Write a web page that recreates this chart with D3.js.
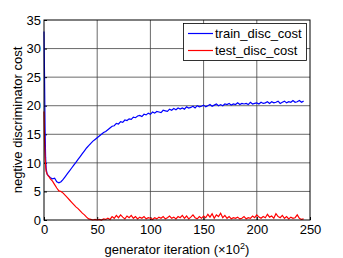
<!DOCTYPE html>
<html>
<head>
<meta charset="utf-8">
<script src="https://cdn.jsdelivr.net/npm/d3@7"></script>
<style>
  body { margin: 0; background: #fff; }
  text { font-family: "Liberation Sans", Arial, sans-serif; fill: #000; }
</style>
</head>
<body>
<svg width="343" height="258"></svg>
<script>
// iteration (x100)
const iterations = [0, 0.5, 1, 1.5, 2, 3, 4, 5, 6, 8, 10, 12, 14, 16, 18, 20, 22, 24, 26, 28, 30, 32, 34, 36, 38, 40,
  42, 44, 46, 48, 50, 52, 54, 56, 58, 60, 62, 64, 66, 68, 70, 72, 74, 76, 78, 80, 82, 84, 86, 88, 90,
  92, 94, 96, 98, 100, 102, 104, 106, 108, 110, 112, 114, 116, 118, 120, 122, 124, 126, 128, 130,
  132, 134, 136, 138, 140, 142, 144, 146, 148, 150, 152, 154, 156, 158, 160, 162, 164, 166, 168, 170,
  172, 174, 176, 178, 180, 182, 184, 186, 188, 190, 192, 194, 196, 198, 200, 202, 204, 206, 208, 210,
  212, 214, 216, 218, 220, 222, 224, 226, 228, 230, 232, 234, 236, 238, 240, 242, 244];

const trainCost = [33, 25, 16, 11, 9, 8, 7.8, 7.6, 7.4, 7.2, 7.3, 6.7, 6.5, 6.7, 7.1, 7.6, 8.1, 8.6, 9.1, 9.6, 10.1, 10.6, 11.1, 11.6, 12.1, 12.6,
  13.0, 13.4, 13.8, 14.1, 14.4, 14.7, 15.0, 15.3, 15.5, 15.8, 16.1, 16.4, 16.5, 16.9, 16.8, 17.2, 17.1, 17.5, 17.4, 17.7, 17.6, 18.0, 17.9, 18.2, 18.3,
  18.1, 18.5, 18.4, 18.7, 18.5, 18.9, 18.7, 19.0, 18.9, 18.8, 19.2, 19.1, 19.0, 19.4, 19.2, 19.5, 19.3, 19.6, 19.4, 19.6,
  19.4, 19.8, 19.6, 19.7, 19.9, 19.6, 20.0, 19.8, 19.9, 20.1, 19.8, 20.0, 20.2, 19.9, 20.1, 20.3, 20.0, 20.2, 20.0, 20.3,
  20.2, 20.4, 20.1, 20.3, 20.2, 20.5, 20.2, 20.4, 20.3, 20.4, 20.2, 20.6, 20.3, 20.4, 20.5, 20.3, 20.6, 20.4, 20.5, 20.7,
  20.4, 20.7, 20.5, 20.6, 20.8, 20.4, 20.6, 20.8, 20.5, 20.7, 20.6, 20.9, 20.6, 20.7, 20.9, 20.6, 20.8];

const testCost = [19, 14, 11, 9.5, 8.5, 8.0, 7.7, 7.5, 7.2, 6.8, 6.2, 5.6, 5.1, 5.0, 4.7, 4.3, 3.9, 3.5, 3.1, 2.7, 2.3, 2.0, 1.6, 1.2, 0.9, 0.5,
  0.2, 0.1, 0.0, 0.1, 0.0, 0.1, 0.0, 0.2, 0.1, 0.3, 0.1, 0.6, 0.3, 0.8, 0.4, 0.9, 0.5, 0.2, 0.7, 0.4, 0.8, 0.3, 0.6, 0.2, 0.5,
  0.3, 0.6, 0.2, 0.4, 0.3, 0.1, 0.4, 0.2, 0.5, 0.3, 0.6, 0.2, 0.4, 0.7, 0.3, 0.5, 0.2, 0.6, 0.4, 0.8,
  0.3, 0.7, 0.2, 0.5, 0.9, 0.4, 0.2, 0.6, 0.3, 0.7, 0.4, 1.0, 0.5, 1.1, 0.3, 0.9, 0.6, 1.2, 0.4, 0.8,
  0.3, 0.6, 0.2, 0.4, 0.3, 0.5, 0.2, 0.3, 0.6, 0.2, 0.4, 0.3, 0.7, 0.4, 0.9, 0.5, 0.3, 0.6, 0.4, 1.0,
  0.5, 0.7, 0.3, 1.1, 0.6, 0.4, 0.8, 0.3, 0.6, 0.2, 0.5, 0.3, 0.4, 0.9, 0.3, 0.1, 0.2];

const seriesNames = ["train_disc_cost", "test_disc_cost"];
const seriesColors = ["#0000ff", "#ff0000"];
const xTicks = [0, 50, 100, 150, 200, 250];
const yTicks = [0, 5, 10, 15, 20, 25, 30, 35];

const svg = d3.select("svg");
const pLeft = 44, pRight = 310, pTop = 20, pBottom = 220;

const x = d3.scaleLinear().domain([0, 250]).range([pLeft, pRight]);
const y = d3.scaleLinear().domain([0, 35]).range([pBottom, pTop]);

// grid
svg.append("g").selectAll("line").data(xTicks.slice(1, -1)).enter().append("line")
   .attr("x1", d => x(d)).attr("x2", d => x(d)).attr("y1", pTop).attr("y2", pBottom)
   .attr("stroke", "#444").attr("stroke-width", 0.8);
svg.append("g").selectAll("line").data(yTicks.slice(1, -1)).enter().append("line")
   .attr("x1", pLeft).attr("x2", pRight).attr("y1", d => y(d)).attr("y2", d => y(d))
   .attr("stroke", "#444").attr("stroke-width", 0.8);

// axes (ticks inward)
const xAxis = svg.append("g").attr("transform", `translate(0,${pBottom})`)
   .call(d3.axisBottom(x).tickValues(xTicks).tickSize(-3).tickPadding(5));
const yAxis = svg.append("g").attr("transform", `translate(${pLeft},0)`)
   .call(d3.axisLeft(y).tickValues(yTicks).tickSize(-3).tickPadding(3));
[xAxis, yAxis].forEach(g => {
  g.select(".domain").remove();
  g.selectAll("line").attr("stroke", "#000");
  g.selectAll("text").style("font-size", "13px").style("font-family", "Liberation Sans, Arial, sans-serif");
});

// lines
const line = d3.line().x((d, i) => x(iterations[i])).y(d => y(d));
[trainCost, testCost].forEach((s, k) => {
  svg.append("path").datum(s).attr("d", line)
     .attr("fill", "none").attr("stroke", seriesColors[k]).attr("stroke-width", 1.2);
});

// frame
svg.append("rect").attr("x", pLeft).attr("y", pTop)
   .attr("width", pRight - pLeft).attr("height", pBottom - pTop)
   .attr("fill", "none").attr("stroke", "#000").attr("stroke-width", 1);

// legend
const lg = svg.append("g");
lg.append("rect").attr("x", 183.5).attr("y", 23.5).attr("width", 123).attr("height", 37)
  .attr("fill", "#fff").attr("stroke", "#000").attr("stroke-width", 0.8);
seriesNames.forEach((n, k) => {
  const ly = 33.5 + k * 17;
  lg.append("line").attr("x1", 188).attr("x2", 213).attr("y1", ly).attr("y2", ly)
    .attr("stroke", seriesColors[k]).attr("stroke-width", 1.2);
  lg.append("text").attr("x", 215).attr("y", ly + 4.5).style("font-size", "13px").text(n);
});

// labels
svg.append("text").attr("x", 177).attr("y", 254).attr("text-anchor", "middle")
   .style("font-size", "13px")
   .html('generator iteration (\u00d710<tspan dy="-5" font-size="9px">2</tspan><tspan dy="5">)</tspan>');
svg.append("text").attr("transform", "translate(22,120) rotate(-90)").attr("text-anchor", "middle")
   .style("font-size", "13px").text("negtive discriminator cost");
</script>
</body>
</html>
